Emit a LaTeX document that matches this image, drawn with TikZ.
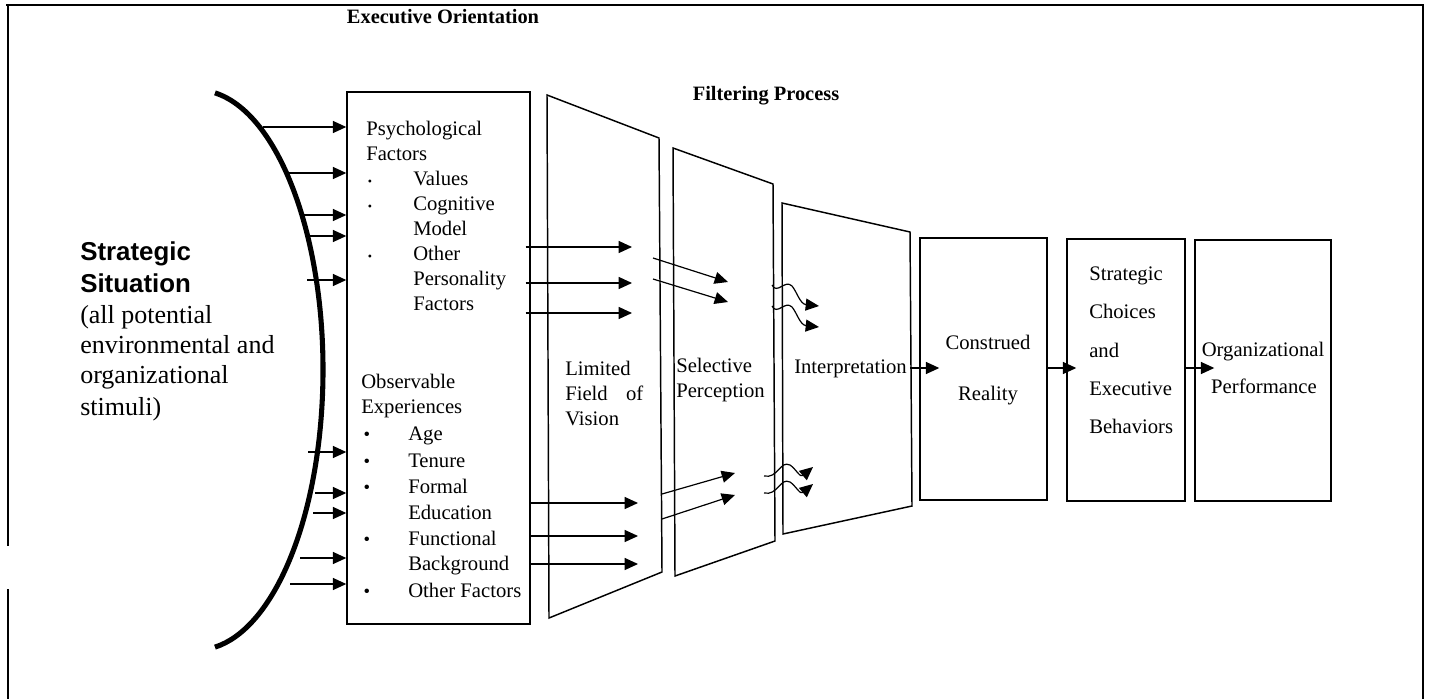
\documentclass[tikz,border=0pt]{standalone}
\usepackage{fontspec}
\setmainfont{Liberation Serif}
\newfontfamily\arialfont{Liberation Sans}
\usetikzlibrary{arrows.meta}

\begin{document}
\begin{tikzpicture}[x=0.75pt,y=-0.75pt,
  box/.style={draw,line width=1.1pt,inner sep=0pt},
  filt/.style={draw,line width=1.1pt,line join=miter},
  arr/.style={line width=0.9pt,-{Triangle[length=10pt,width=9pt]}},
  txt/.style={inner sep=0pt,anchor=base west,font=\fontsize{15.5}{19}\selectfont},
  ctxt/.style={inner sep=0pt,anchor=base,font=\fontsize{15.5}{19}\selectfont},
  head/.style={inner sep=0pt,anchor=base,font=\fontsize{15.3}{18}\selectfont\bfseries},
  sbul/.style={inner sep=0pt,anchor=base,font=\fontsize{9}{10}\selectfont},
  bbul/.style={inner sep=0pt,anchor=base,font=\fontsize{14}{16}\selectfont},
  big/.style={inner sep=0pt,anchor=base west,font=\fontsize{19.4}{24}\selectfont\arialfont\bfseries},
  sit/.style={inner sep=0pt,anchor=base west,font=\fontsize{19.5}{22.5}\selectfont},
]
\useasboundingbox (0,0) rectangle (1434,699);

% outer frame (left side interrupted)
\draw[line width=1.3pt] (6,5) -- (1424,5);
\draw[line width=1.3pt] (8,5) -- (8,546);
\draw[line width=1.3pt] (8,589) -- (8,699);
\draw[line width=1.5pt] (1423,5) -- (1423,699);

% headings
\node[head] (hexec) at (443,24) {Executive Orientation};
\node[head] (hfilt) at (766,100) {Filtering Process};

% strategic situation
\draw[line width=3.8pt] (197,370) ++(-81.8:126 and 280)
  arc[start angle=-81.8,end angle=81.8,x radius=126,y radius=280];
\node[big] (s1) at (80,260) {Strategic};
\node[big] (s2) at (80,292) {Situation};
\node[sit] (s3) at (80,323) {(all potential};
\node[sit] (s4) at (80,353) {environmental and};
\node[sit] (s5) at (80,383) {organizational};
\node[sit] (s6) at (80,415) {stimuli)};

% executive orientation box
\node[box,minimum width=183*0.75pt,minimum height=532*0.75pt] (psy) at (438.5,358) {};
\node[txt] at (366,135) {Psychological};
\node[txt] at (366,160) {Factors};
\foreach \y in {185,210,260} \node[sbul] at (370,\y) {\textbullet};
\node[txt] at (413,185) {Values};
\node[txt] at (413,210) {Cognitive};
\node[txt] at (413,235) {Model};
\node[txt] at (413,260) {Other};
\node[txt] at (413,285) {Personality};
\node[txt] at (413,310) {Factors};

\node[txt] at (361,388) {Observable};
\node[txt] at (361,413) {Experiences};
\foreach \y in {440,467,493,545,597} \node[bbul] at (367,\y) {\textbullet};
\node[txt] at (408,440) {Age};
\node[txt] at (408,467) {Tenure};
\node[txt] at (408,493) {Formal};
\node[txt] at (408,519) {Education};
\node[txt] at (408,545) {Functional};
\node[txt] at (408,570) {Background};
\node[txt] at (408,597) {Other Factors};

% stimuli entering the executive
\foreach \sx/\y in {263/127,288/173,302/215,305/236,307/280,308/452,315/493,313/513,300/558,290/584}
  \draw[arr] (\sx,\y) -- (psy.west |- 0,\y);

% filters
\draw[filt] (547,95) coordinate (lim1) -- (659,138) coordinate (lim2)
  -- (662,572) coordinate (lim3) -- (549,618) coordinate (lim4) -- cycle;
\draw[filt] (673,148) coordinate (sel1) -- (773,184) coordinate (sel2)
  -- (775,541) coordinate (sel3) -- (675,576) coordinate (sel4) -- cycle;
\draw[filt] (782,203) coordinate (int1) -- (910,232) coordinate (int2)
  -- (912,506) coordinate (int3) -- (783,534) coordinate (int4) -- cycle;

\node[txt] (limA) at (565,375) {Limited};
\node[txt,text width=78*0.75pt] (limB) at (565,400) {Field\hfill of};
\node[txt] (limC) at (565,425) {Vision};
\node[txt] (selA) at (676,372) {Selective};
\node[txt] (selB) at (676,397) {Perception};
\node[txt] (intA) at (794,373) {Interpretation};

% flows through the filters
\foreach \y in {247,283,313}
  \draw[arr,shorten <=-5*0.75pt] (psy.east |- 0,\y) -- (632,\y);
\foreach \y in {503,536,564}
  \draw[arr] (psy.east |- 0,\y) -- (638,\y);

\draw[arr] (653,258) coordinate (la1) -- (728,282);
\draw[arr] (653,279) coordinate (la2) -- (728,302);
\draw[arr] (662,494) coordinate (lb1) -- (735,473);
\draw[arr] (662,519) coordinate (lb2) -- (735,495);

\draw[arr] (772,285) .. controls (777,295) and (785,279) .. (792,286)
  .. controls (797,292) and (800,304) .. (819,306);
\draw[arr] (772,306) .. controls (777,316) and (785,300) .. (792,307)
  .. controls (797,313) and (800,325) .. (819,327);
\draw[arr] (764,476) .. controls (778,479) and (780,460) .. (790,465)
  .. controls (796,469) and (800,478) .. (813,467);
\draw[arr] (764,493) .. controls (778,496) and (780,477) .. (790,482)
  .. controls (796,486) and (800,495) .. (813,484);

% outcome boxes
\node[box,minimum width=127*0.75pt,minimum height=262*0.75pt] (cons) at (983.5,369) {};
\node[box,minimum width=118*0.75pt,minimum height=262*0.75pt] (strat) at (1126,370) {};
\node[box,minimum width=136*0.75pt,minimum height=261*0.75pt] (org) at (1263,370.5) {};

\node[ctxt] at (988,349) {Construed};
\node[ctxt] at (988,400) {Reality};
\node[txt] at (1089,280) {Strategic};
\node[txt] at (1089,318) {Choices};
\node[txt] at (1089,357) {and};
\node[txt] at (1089,395) {Executive};
\node[txt] at (1089,433) {Behaviors};
\node[ctxt] at (1263,356) {Organizational};
\node[ctxt] at (1264,393) {Performance};

\coordinate (intout) at (910,368);
\draw[arr,shorten >=-20*0.75pt] (intout) -- (cons.west |- intout);
\draw[arr,shorten >=-10*0.75pt] (cons.east |- 0,368) -- (strat.west |- 0,368);
\draw[arr,shorten >=-20*0.75pt] (strat.east |- 0,368) -- (org.west |- 0,368);
\end{tikzpicture}
\end{document}
